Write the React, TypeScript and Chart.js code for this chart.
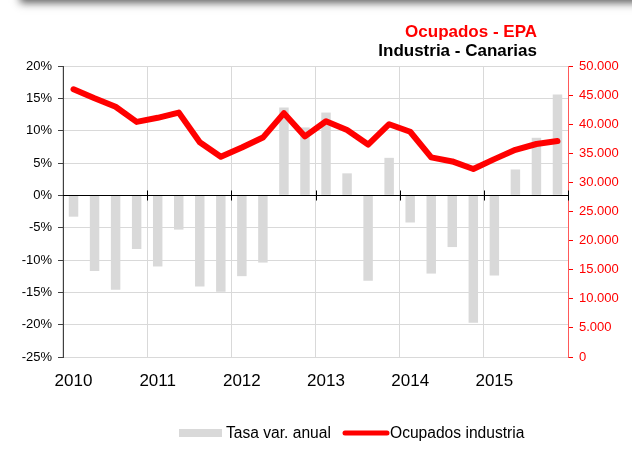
import React, { useEffect, useRef } from 'react';
import { Chart, registerables } from 'chart.js';

Chart.register(...registerables);

const quarters = [
  '2010-T1', '2010-T2', '2010-T3', '2010-T4',
  '2011-T1', '2011-T2', '2011-T3', '2011-T4',
  '2012-T1', '2012-T2', '2012-T3', '2012-T4',
  '2013-T1', '2013-T2', '2013-T3', '2013-T4',
  '2014-T1', '2014-T2', '2014-T3', '2014-T4',
  '2015-T1', '2015-T2', '2015-T3', '2015-T4',
];

const yearLabels = ['2010', '', '', '', '2011', '', '', '', '2012', '', '', '', '2013', '', '', '', '2014', '', '', '', '2015', '', '', ''];

const tasaVarAnual = [
  -3.3, -11.7, -14.6, -8.3,
  -11.0, -5.3, -14.1, -14.9,
  -12.5, -10.4, 13.6, 10.5,
  12.8, 3.4, -13.2, 5.8,
  -4.2, -12.1, -8.0, -19.7,
  -12.4, 4.0, 8.9, 15.6,
];

const ocupadosIndustria = [
  46000, 44450, 43000, 40400,
  41100, 42000, 36900, 34400,
  36000, 37700, 41900, 37900,
  40500, 39000, 36500, 40000,
  38700, 34300, 33600, 32300,
  34000, 35600, 36600, 37100,
];

const titleLine1 = 'Ocupados - EPA';
const titleLine2 = 'Industria - Canarias';
const legendBar = 'Tasa var. anual';
const legendLine = 'Ocupados industria';

const FONT = "'Liberation Sans', Arial, sans-serif";

const fmtThousands = (v: number) => String(v).replace(/\B(?=(\d{3})+(?!\d))/g, '.');

const decorPlugin = {
  id: 'decor',
  beforeDraw(chart: any) {
    const ctx = chart.ctx;
    ctx.save();
    // top shadow band
    ctx.shadowColor = 'rgba(90,90,90,0.95)';
    ctx.shadowBlur = 8;
    ctx.shadowOffsetY = 5;
    ctx.fillStyle = '#777777';
    ctx.fillRect(20, -30, 700, 28);
    ctx.restore();
  },
  afterDatasetsDraw(chart: any) {
    const ctx = chart.ctx;
    const x = chart.scales.x;
    const y = chart.scales.y;
    const y0 = Math.round(y.getPixelForValue(0)) + 0.5;
    const half = (x.getPixelForValue(1) - x.getPixelForValue(0)) / 2;
    ctx.save();
    ctx.strokeStyle = '#000';
    ctx.lineWidth = 1;
    ctx.beginPath();
    ctx.moveTo(chart.chartArea.left, y0);
    ctx.lineTo(chart.chartArea.right, y0);
    for (let i = 4; i <= quarters.length; i += 4) {
      const px = Math.round(x.getPixelForValue(i) - half) + 0.5;
      ctx.moveTo(px, y0 - 5);
      ctx.lineTo(px, y0 + 5);
    }
    ctx.stroke();
    ctx.restore();
  },
  afterDraw(chart: any) {
    const ctx = chart.ctx;
    ctx.save();
    // titles
    ctx.textAlign = 'right';
    ctx.textBaseline = 'alphabetic';
    ctx.font = `bold 17px ${FONT}`;
    ctx.fillStyle = '#ff0000';
    ctx.fillText(titleLine1, 537, 37);
    ctx.fillStyle = '#000000';
    ctx.fillText(titleLine2, 537, 56);
    // legend
    ctx.fillStyle = '#d9d9d9';
    ctx.fillRect(179, 429, 43, 8);
    ctx.font = `15.6px ${FONT}`;
    ctx.textAlign = 'left';
    ctx.textBaseline = 'middle';
    ctx.fillStyle = '#000000';
    ctx.fillText(legendBar, 226, 433.5);
    ctx.strokeStyle = '#ff0000';
    ctx.lineWidth = 5;
    ctx.lineCap = 'round';
    ctx.beginPath();
    ctx.moveTo(345, 433);
    ctx.lineTo(387, 433);
    ctx.stroke();
    ctx.fillText(legendLine, 390, 433.5);
    ctx.restore();
  },
};

export default function App() {
  const canvasRef = useRef<HTMLCanvasElement | null>(null);

  useEffect(() => {
    if (!canvasRef.current) return;
    Chart.defaults.font.family = FONT;
    const chart = new Chart(canvasRef.current, {
      type: 'bar',
      data: {
        labels: quarters,
        datasets: [
          {
            type: 'line',
            label: legendLine,
            data: ocupadosIndustria,
            yAxisID: 'y1',
            borderColor: '#ff0000',
            backgroundColor: '#ff0000',
            borderWidth: 6,
            pointRadius: 0,
            tension: 0,
            borderJoinStyle: 'round',
            borderCapStyle: 'round',
            order: 0,
          } as any,
          {
            type: 'bar',
            label: legendBar,
            data: tasaVarAnual,
            yAxisID: 'y',
            backgroundColor: '#d9d9d9',
            borderWidth: 0,
            barPercentage: 0.45,
            categoryPercentage: 1,
            order: 1,
          } as any,
        ],
      },
      options: {
        animation: false,
        responsive: true,
        maintainAspectRatio: false,
        layout: { padding: { top: 66, left: 0, right: 0, bottom: 0 } },
        plugins: {
          legend: { display: false },
          title: { display: false },
          tooltip: { enabled: false },
        },
        scales: {
          x: {
            type: 'category',
            offset: true,
            grid: {
              offset: true,
              drawTicks: false,
              color: (ctx: any) => (typeof ctx.index === 'number' && ctx.index % 4 === 0 ? '#d9d9d9' : 'rgba(0,0,0,0)'),
            },
            border: { color: '#d9d9d9' },
            ticks: {
              autoSkip: false,
              maxRotation: 0,
              minRotation: 0,
              padding: 14,
              color: '#000',
              font: { size: 17 },
              callback: (_v: any, idx: number) => yearLabels[idx],
            },
            afterFit: (s: any) => { s.height = 95; },
          },
          y: {
            type: 'linear',
            position: 'left',
            min: -25,
            max: 20,
            ticks: {
              stepSize: 5,
              color: '#000',
              padding: 6,
              font: { size: 13 },
              callback: (v: any) => `${v}%`,
            },
            grid: {
              color: (ctx: any) => (ctx.tick && ctx.tick.value === 0 ? '#000' : '#d9d9d9'),
              tickColor: '#404040',
              tickLength: 5,
            },
            border: { color: '#404040' },
            afterFit: (s: any) => { s.width = 63; },
          },
          y1: {
            type: 'linear',
            position: 'right',
            min: 0,
            max: 50000,
            ticks: {
              stepSize: 5000,
              color: '#ff0000',
              padding: 6,
              font: { size: 13 },
              callback: (v: any) => fmtThousands(v),
            },
            grid: {
              drawOnChartArea: false,
              tickColor: '#ff0000',
              tickLength: 5,
            },
            border: { color: 'rgba(255,0,0,0.65)' },
            afterFit: (s: any) => { s.width = 64; },
          },
        },
      },
      plugins: [decorPlugin],
    } as any);
    return () => chart.destroy();
  }, []);

  return (
    <div style={{ position: 'fixed', left: 0, top: 0, width: 632, height: 452, background: '#fff' }}>
      <canvas ref={canvasRef} style={{ display: 'block' }} />
    </div>
  );
}
